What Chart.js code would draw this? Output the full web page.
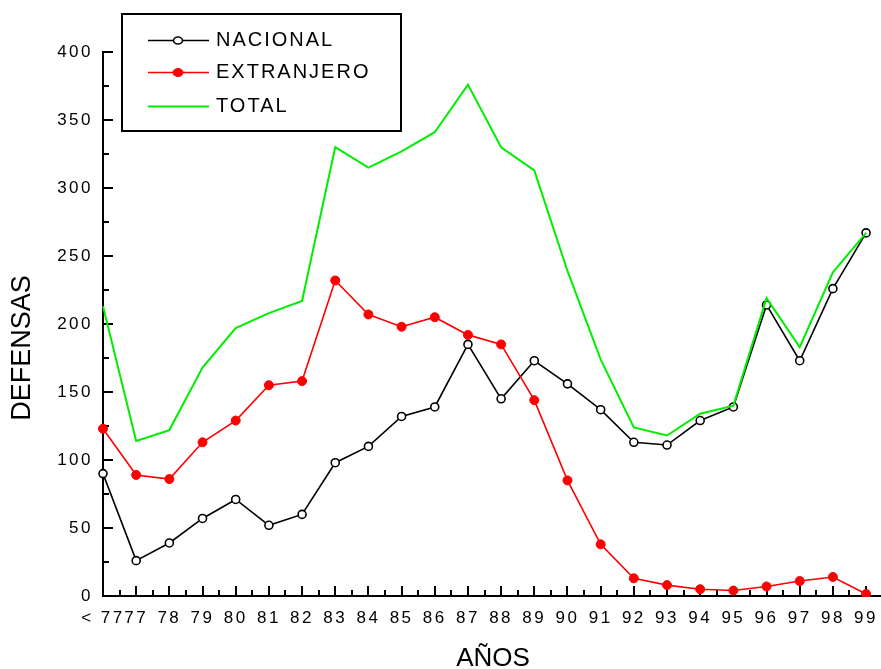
<!DOCTYPE html>
<html>
<head>
<meta charset="utf-8">
<script src="https://cdn.jsdelivr.net/npm/chart.js@4.4.1/dist/chart.umd.min.js"></script>
<style>
  html, body { margin:0; padding:0; background:#fff; }
  #wrap { position:relative; width:881px; height:669px; }
</style>
</head>
<body>
<div id="wrap"><canvas id="c"></canvas></div>
<script>
// categories (x axis) and series
const years      = ["< 77","77","78","79","80","81","82","83","84","85","86","87","88","89","90","91","92","93","94","95","96","97","98","99"];
const nacional   = [90, 26, 39, 57, 71, 52, 60, 98, 110, 132, 139, 185, 145, 173, 156, 137, 113, 111, 129, 139, 214, 173, 226, 267];
const extranjero = [123, 89, 86, 113, 129, 155, 158, 232, 207, 198, 205, 192, 185, 144, 85, 38, 13, 8, 5, 4, 7, 11, 14, 1.5];
const total      = [213, 114, 122, 168, 197, 208, 217, 330, 315, 327, 341, 376, 330, 313, 239, 174, 124, 118, 134, 140, 219, 183, 238, 267];
const yMax  = 400;
const yStep = 50;

const FONT = "'Liberation Sans', Arial, sans-serif";
const xy = arr => arr.map((v, i) => ({ x: i, y: v }));

// inward major/minor tick marks, placed through the scales
const tickMarks = {
  id: "tickMarks",
  beforeDatasetsDraw(chart){
    const { ctx, scales:{ x, y }, chartArea } = chart;
    const base = Math.round(y.getPixelForValue(0));
    const left = Math.round(x.getPixelForValue(0));
    ctx.save();
    ctx.strokeStyle = "#000";
    ctx.lineWidth = 2;
    ctx.beginPath();
    for (let i = 0; i < years.length; i++){
      const px = Math.round(x.getPixelForValue(i));
      ctx.moveTo(px, base); ctx.lineTo(px, base - 10);
      const mx = Math.round(x.getPixelForValue(i + 0.5));
      if (mx < chartArea.right){ ctx.moveTo(mx, base); ctx.lineTo(mx, base - 6); }
    }
    for (let v = yStep / 2; v <= yMax; v += yStep / 2){
      const py = Math.round(y.getPixelForValue(v));
      ctx.moveTo(left, py); ctx.lineTo(left + (v % yStep ? 6 : 10), py);
    }
    ctx.stroke();
    ctx.restore();
  }
};

// spaced-out lettering for tick labels
const spacing = {
  id: "spacing",
  beforeDraw(chart){ chart.ctx.letterSpacing = "2.5px"; }
};

// axis titles and boxed legend
const decor = {
  id: "decor",
  afterDraw(chart){
    const { ctx } = chart;
    ctx.save();
    ctx.letterSpacing = "0px";
    ctx.fillStyle = "#000";
    ctx.textBaseline = "middle";
    ctx.textAlign = "center";
    ctx.font = `26px ${FONT}`;
    ctx.fillText("AÑOS", 493, 659);
    ctx.save();
    ctx.translate(23, 348);
    ctx.rotate(-Math.PI / 2);
    ctx.font = `27px ${FONT}`;
    ctx.fillText("DEFENSAS", 0, 0);
    ctx.restore();

    // legend
    ctx.lineWidth = 2;
    ctx.strokeStyle = "#000";
    ctx.strokeRect(122, 14, 279, 117);
    const rows = [40.5, 72.5, 106.5];
    chart.data.datasets.forEach((ds, k) => {
      const yy = rows[k];
      ctx.strokeStyle = ds.borderColor;
      ctx.lineWidth = ds.borderWidth;
      ctx.beginPath();
      ctx.moveTo(148, yy); ctx.lineTo(209, yy);
      ctx.stroke();
      if (ds.pointRadius > 0){
        ctx.beginPath();
        ctx.ellipse(178, yy, ds.pointRadius + 0.5, ds.pointRadius - 0.5, 0, 0, Math.PI * 2);
        ctx.fillStyle = ds.pointBackgroundColor;
        ctx.fill();
        ctx.lineWidth = ds.pointBorderWidth;
        ctx.strokeStyle = ds.pointBorderColor;
        ctx.stroke();
      }
      ctx.fillStyle = "#000";
      ctx.textAlign = "left";
      ctx.letterSpacing = "2px";
      ctx.font = `20px ${FONT}`;
      ctx.fillText(ds.label, 216, yy);
    });
    ctx.restore();
  }
};

const clip = { left: false, top: false, right: false, bottom: 1 };

new Chart(document.getElementById("c"), {
  type: "line",
  data: {
    datasets: [
      { label: "NACIONAL", data: xy(nacional), borderColor: "#000", borderWidth: 1.6,
        pointRadius: 4, pointBackgroundColor: "#fff", pointBorderColor: "#000", pointBorderWidth: 1.6,
        tension: 0, order: 3, clip },
      { label: "EXTRANJERO", data: xy(extranjero), borderColor: "#ff0000", borderWidth: 1.6,
        pointRadius: 4.5, pointBackgroundColor: "#ff0000", pointBorderColor: "#ff0000", pointBorderWidth: 1,
        tension: 0, order: 2, clip },
      { label: "TOTAL", data: xy(total), borderColor: "#00ee00", borderWidth: 2,
        pointRadius: 0, tension: 0, order: 1, clip }
    ]
  },
  options: {
    responsive: true,
    maintainAspectRatio: false,
    animation: false,
    events: [],
    layout: { autoPadding: false, padding: { top: 52, left: 0, right: 0, bottom: 0 } },
    plugins: { legend: { display: false }, tooltip: { enabled: false } },
    scales: {
      x: {
        type: "linear",
        min: 0,
        max: years.length - 1 + 0.45,
        grid: { display: false, drawTicks: false },
        border: { display: true, color: "#000", width: 2 },
        ticks: {
          stepSize: 1,
          includeBounds: false,
          autoSkip: false,
          maxRotation: 0,
          padding: 12,
          color: "#000",
          font: { family: FONT, size: 17 },
          callback: v => Number.isInteger(v) ? (years[v] ?? "") : ""
        },
        afterFit(s){ s.height = 73; s.paddingLeft = 0; s.paddingRight = 0; }
      },
      y: {
        min: 0,
        max: yMax,
        grid: { display: false, drawTicks: false },
        border: { display: true, color: "#000", width: 2 },
        ticks: {
          stepSize: yStep,
          padding: 10,
          color: "#000",
          font: { family: FONT, size: 17 }
        },
        afterFit(s){ s.width = 103; s.paddingTop = 0; s.paddingBottom = 0; }
      }
    }
  },
  plugins: [spacing, tickMarks, decor]
});
</script>
</body>
</html>
